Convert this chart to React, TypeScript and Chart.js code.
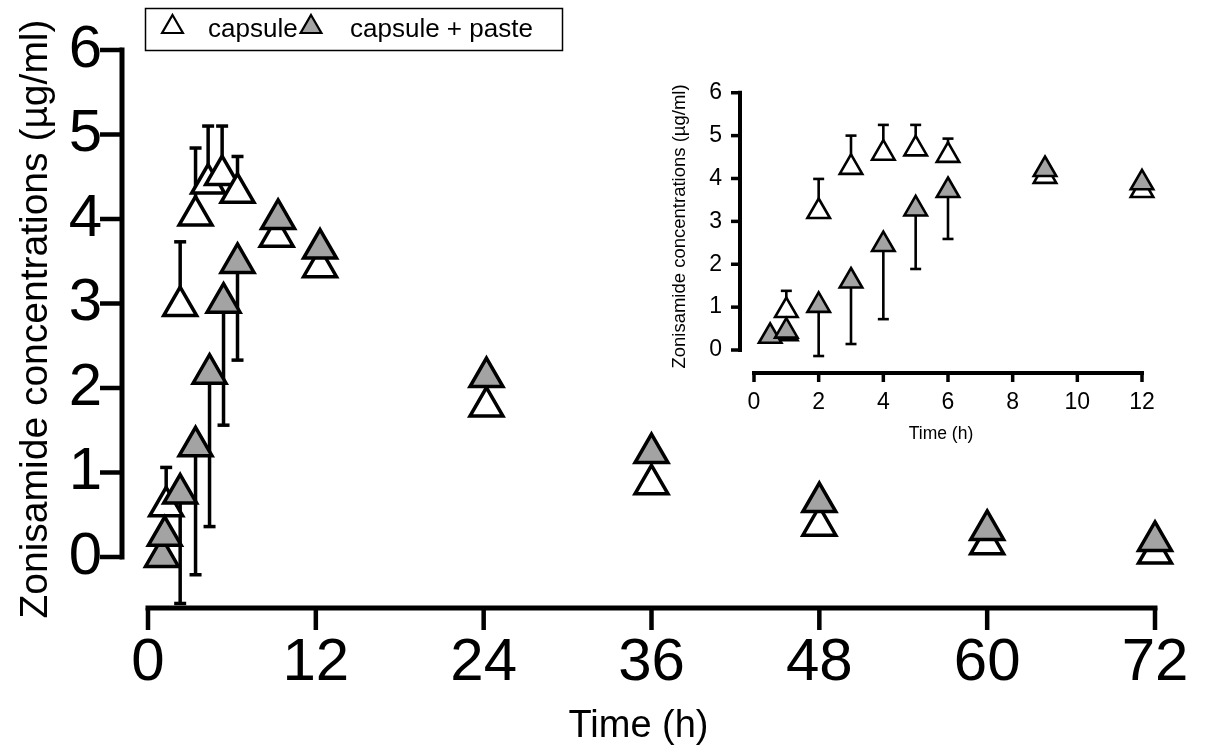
import React, { useEffect, useRef } from 'react';
import { Chart, registerables } from 'chart.js';

Chart.register(...registerables);

const FONT = "'Liberation Sans', Arial, Helvetica, sans-serif";
const GREY = '#a3a3a3';

// ---------- main chart data (0-72 h) ----------
const mainXTicks = [0, 12, 24, 36, 48, 60, 72];
const mainYTicks = [0, 1, 2, 3, 4, 5, 6];
const mainCapsuleTime = [1.3, 2.3, 3.4, 4.3, 5.3, 6.4, 9.2, 12.3, 24.2, 36, 48, 60, 72];
const mainCapsuleConc = [0.6, 2.97, 4.04, 4.42, 4.52, 4.31, 3.79, 3.43, 1.78, 0.86, 0.37, 0.15, 0.04];
const mainCapsuleSdTop = [1.06, 3.73, 4.84, 5.1, 5.1, 4.74, null, null, null, null, null, null, null];
const mainPasteTime = [1.0, 1.2, 2.3, 3.4, 4.4, 5.4, 6.4, 9.3, 12.3, 24.2, 36, 48, 60, 72];
const mainPasteConc = [0.0, 0.25, 0.75, 1.31, 2.17, 3.01, 3.48, 4.0, 3.65, 2.13, 1.23, 0.65, 0.32, 0.19];
const mainPasteSdBottom = [null, null, -0.55, -0.21, 0.36, 1.56, 2.33, null, null, null, null, null, null, null];

// ---------- inset data (0-12 h) ----------
const insetXTicks = [0, 2, 4, 6, 8, 10, 12];
const insetYTicks = [0, 1, 2, 3, 4, 5, 6];
const insetCapsuleTime = [1, 1, 2, 3, 4, 5, 6, 9, 12];
const insetCapsuleConc = [0.38, 0.92, 3.23, 4.26, 4.59, 4.69, 4.54, 4.05, 3.72];
const insetCapsuleSdTop = [null, 1.38, 3.99, 5.0, 5.25, 5.25, 4.93, null, null];
const insetPasteTime = [0.5, 1, 2, 3, 4, 5, 6, 9, 12];
const insetPasteConc = [0.32, 0.44, 1.04, 1.61, 2.46, 3.29, 3.72, 4.21, 3.9];
const insetPasteSdBottom = [null, 0.25, -0.14, 0.14, 0.72, 1.89, 2.59, null, null];

const labelCapsule = 'capsule';
const labelPaste = 'capsule + paste';
const yTitle = 'Zonisamide concentrations (\u00b5g/ml)';
const xTitle = 'Time (h)';

function pts(xs: number[], ys: number[]) {
  return xs.map((x, i) => ({ x, y: ys[i] }));
}

function errSegments(xs: number[], ys: number[], ends: (number | null)[]) {
  const out: any[] = [];
  xs.forEach((x, i) => {
    const e = ends[i];
    if (e === null || e === undefined) return;
    out.push({ x, y: ys[i] }, { x, y: e }, { x, y: null });
  });
  return out;
}

function buildDatasets(d: any, st: any) {
  const errDs = (data: any[]) => ({
    label: 'sd',
    data,
    showLine: true,
    spanGaps: false,
    borderColor: '#000',
    borderWidth: st.errWidth,
    pointStyle: 'line',
    pointRadius: (c: any) => (c.dataIndex % 3 === 1 ? st.capRadius : 0),
    pointBorderColor: '#000',
    pointBorderWidth: st.errWidth,
    clip: false,
    order: 2,
  });
  return [
    {
      label: labelPaste,
      data: pts(d.pasteT, d.pasteC),
      showLine: false,
      pointStyle: 'triangle',
      pointRadius: st.r,
      pointBackgroundColor: GREY,
      pointBorderColor: '#000',
      pointBorderWidth: st.bw,
      clip: false,
      order: 0,
    },
    {
      label: labelCapsule,
      data: pts(d.capT, d.capC),
      showLine: false,
      pointStyle: 'triangle',
      pointRadius: st.r,
      pointBackgroundColor: '#fff',
      pointBorderColor: '#000',
      pointBorderWidth: st.bw,
      clip: false,
      order: 1,
    },
    errDs(errSegments(d.capT, d.capC, d.capSd)),
    errDs(errSegments(d.pasteT, d.pasteC, d.pasteSd)),
  ];
}

// axes that are detached from each other (drawn through the chart's own scales)
const detachedAxes = {
  id: 'detachedAxes',
  beforeDatasetsDraw(chart: any, _a: any, o: any) {
    const { ctx, chartArea, scales } = chart;
    const x = scales.x;
    const y = scales.y;
    const ax = chartArea.left;
    const ay = chartArea.bottom;
    ctx.save();
    ctx.strokeStyle = '#000';
    const yT = y.getPixelForValue(Math.max(...o.yTicks));
    const yB = y.getPixelForValue(Math.min(...o.yTicks));
    ctx.lineWidth = o.lineWidth;
    ctx.lineCap = 'square';
    ctx.beginPath();
    ctx.moveTo(ax, yT);
    ctx.lineTo(ax, yB);
    ctx.stroke();
    const xL = x.getPixelForValue(Math.min(...o.xTicks));
    const xR = x.getPixelForValue(Math.max(...o.xTicks));
    ctx.beginPath();
    ctx.moveTo(xL, ay);
    ctx.lineTo(xR, ay);
    ctx.stroke();
    ctx.lineCap = 'butt';
    ctx.lineWidth = o.tickWidth;
    o.yTicks.forEach((v: number) => {
      const p = y.getPixelForValue(v);
      ctx.beginPath();
      ctx.moveTo(ax - o.tickLength, p);
      ctx.lineTo(ax, p);
      ctx.stroke();
    });
    o.xTicks.forEach((v: number) => {
      const p = x.getPixelForValue(v);
      ctx.beginPath();
      ctx.moveTo(p, ay);
      ctx.lineTo(p, ay + o.tickLength);
      ctx.stroke();
    });
    ctx.restore();
  },
};

function triangle(ctx: any, cx: number, cy: number, r: number) {
  ctx.beginPath();
  for (let k = 0; k < 3; k++) {
    const a = (k * 2 * Math.PI) / 3;
    const px = cx + Math.sin(a) * r;
    const py = cy - Math.cos(a) * r;
    if (k === 0) ctx.moveTo(px, py);
    else ctx.lineTo(px, py);
  }
  ctx.closePath();
}

const boxLegend = {
  id: 'boxLegend',
  afterDraw(chart: any, _a: any, o: any) {
    if (!o || !o.items) return;
    const { ctx } = chart;
    ctx.save();
    ctx.strokeStyle = '#000';
    ctx.lineWidth = o.borderWidth;
    ctx.strokeRect(o.left, o.top, o.width, o.height);
    o.items.forEach((it: any) => {
      const ds = chart.data.datasets[it.datasetIndex];
      triangle(ctx, it.markerX, o.markerY, o.markerRadius);
      ctx.fillStyle = ds.pointBackgroundColor;
      ctx.fill();
      ctx.lineWidth = o.markerBorder;
      ctx.strokeStyle = ds.pointBorderColor;
      ctx.stroke();
      ctx.fillStyle = '#000';
      ctx.font = `${o.fontSize}px ${FONT}`;
      ctx.textBaseline = 'alphabetic';
      ctx.textAlign = 'left';
      ctx.fillText(ds.label, it.textX, o.baseline);
    });
    ctx.restore();
  },
};

function axis(a: any) {
  return {
    type: 'linear',
    position: a.position,
    min: a.min,
    max: a.max,
    afterBuildTicks: (s: any) => {
      s.ticks = a.ticks.map((v: number) => ({ value: v }));
    },
    afterFit: (s: any) => {
      if (a.position === 'bottom') s.height = a.size;
      else s.width = a.size;
      s.paddingLeft = 0;
      s.paddingRight = 0;
      s.paddingTop = 0;
      s.paddingBottom = 0;
    },
    grid: { display: false, drawTicks: false },
    border: { display: false },
    ticks: {
      color: '#000',
      font: { family: FONT, size: a.tickFont, lineHeight: 1 },
      padding: a.tickPad,
      autoSkip: false,
      maxRotation: 0,
      minRotation: 0,
    },
    title: {
      display: true,
      text: a.title,
      color: '#000',
      font: { family: FONT, size: a.titleFont, lineHeight: 1 },
      padding: a.titlePad,
    },
  };
}

function baseOptions() {
  return {
    animation: false,
    responsive: false,
    maintainAspectRatio: false,
    devicePixelRatio: 1,
    events: [],
  };
}

function mainConfig(): any {
  return {
    type: 'scatter',
    data: {
      datasets: buildDatasets(
        {
          capT: mainCapsuleTime, capC: mainCapsuleConc, capSd: mainCapsuleSdTop,
          pasteT: mainPasteTime, pasteC: mainPasteConc, pasteSd: mainPasteSdBottom,
        },
        { r: 19, bw: 3.5, errWidth: 3.5, capRadius: 6 }
      ),
    },
    options: {
      ...baseOptions(),
      layout: { padding: { left: 0, top: 30, right: 51, bottom: 0 } },
      plugins: {
        legend: { display: false },
        tooltip: { enabled: false },
        detachedAxes: { xTicks: mainXTicks, yTicks: mainYTicks, lineWidth: 5, tickWidth: 4.5, tickLength: 22 },
        boxLegend: {
          left: 145.5, top: 8.5, width: 417, height: 42, borderWidth: 1.5,
          markerY: 27, markerRadius: 12, markerBorder: 2.2, fontSize: 26, baseline: 37,
          items: [
            { datasetIndex: 1, markerX: 172.5, textX: 208 },
            { datasetIndex: 0, markerX: 311, textX: 350 },
          ],
        },
      },
      scales: {
        x: axis({ position: 'bottom', min: -1.859, max: 72, ticks: mainXTicks, size: 144, tickFont: 60, tickPad: 25, title: xTitle, titleFont: 38, titlePad: { top: 0, bottom: 6 } }),
        y: axis({ position: 'left', min: -0.6036, max: 6.2367, ticks: mainYTicks, size: 122, tickFont: 60, tickPad: 20, title: yTitle, titleFont: 39, titlePad: { top: 17, bottom: 0 } }),
      },
    },
    plugins: [detachedAxes, boxLegend],
  };
}

function insetConfig(): any {
  return {
    type: 'scatter',
    data: {
      datasets: buildDatasets(
        {
          capT: insetCapsuleTime, capC: insetCapsuleConc, capSd: insetCapsuleSdTop,
          pasteT: insetPasteTime, pasteC: insetPasteConc, pasteSd: insetPasteSdBottom,
        },
        { r: 13, bw: 2.6, errWidth: 2.6, capRadius: 5.5 }
      ),
    },
    options: {
      ...baseOptions(),
      layout: { padding: { left: 0, top: 20, right: 58, bottom: 0 } },
      plugins: {
        legend: { display: false },
        tooltip: { enabled: false },
        detachedAxes: { xTicks: insetXTicks, yTicks: insetYTicks, lineWidth: 4, tickWidth: 3.5, tickLength: 9 },
      },
      scales: {
        x: axis({ position: 'bottom', min: -0.433, max: 12, ticks: insetXTicks, size: 87, tickFont: 23, tickPad: 18.5, title: xTitle, titleFont: 17.5, titlePad: { top: 0, bottom: 17 } }),
        y: axis({ position: 'left', min: -0.536, max: 6.297, ticks: insetYTicks, size: 80, tickFont: 23, tickPad: 18, title: yTitle, titleFont: 18.5, titlePad: { top: 11, bottom: 0 } }),
      },
    },
    plugins: [detachedAxes],
  };
}

export default function App() {
  const mainRef = useRef<HTMLCanvasElement>(null);
  const insetRef = useRef<HTMLCanvasElement>(null);

  useEffect(() => {
    const main = new Chart(mainRef.current as HTMLCanvasElement, mainConfig());
    const inset = new Chart(insetRef.current as HTMLCanvasElement, insetConfig());
    return () => {
      main.destroy();
      inset.destroy();
    };
  }, []);

  return (
    <div style={{ position: 'absolute', left: 0, top: 0, width: 1206, height: 752, background: '#fff' }}>
      <canvas ref={mainRef} width={1206} height={752} style={{ position: 'absolute', left: 0, top: 0 }} />
      <canvas ref={insetRef} width={540} height={400} style={{ position: 'absolute', left: 660, top: 60 }} />
    </div>
  );
}
